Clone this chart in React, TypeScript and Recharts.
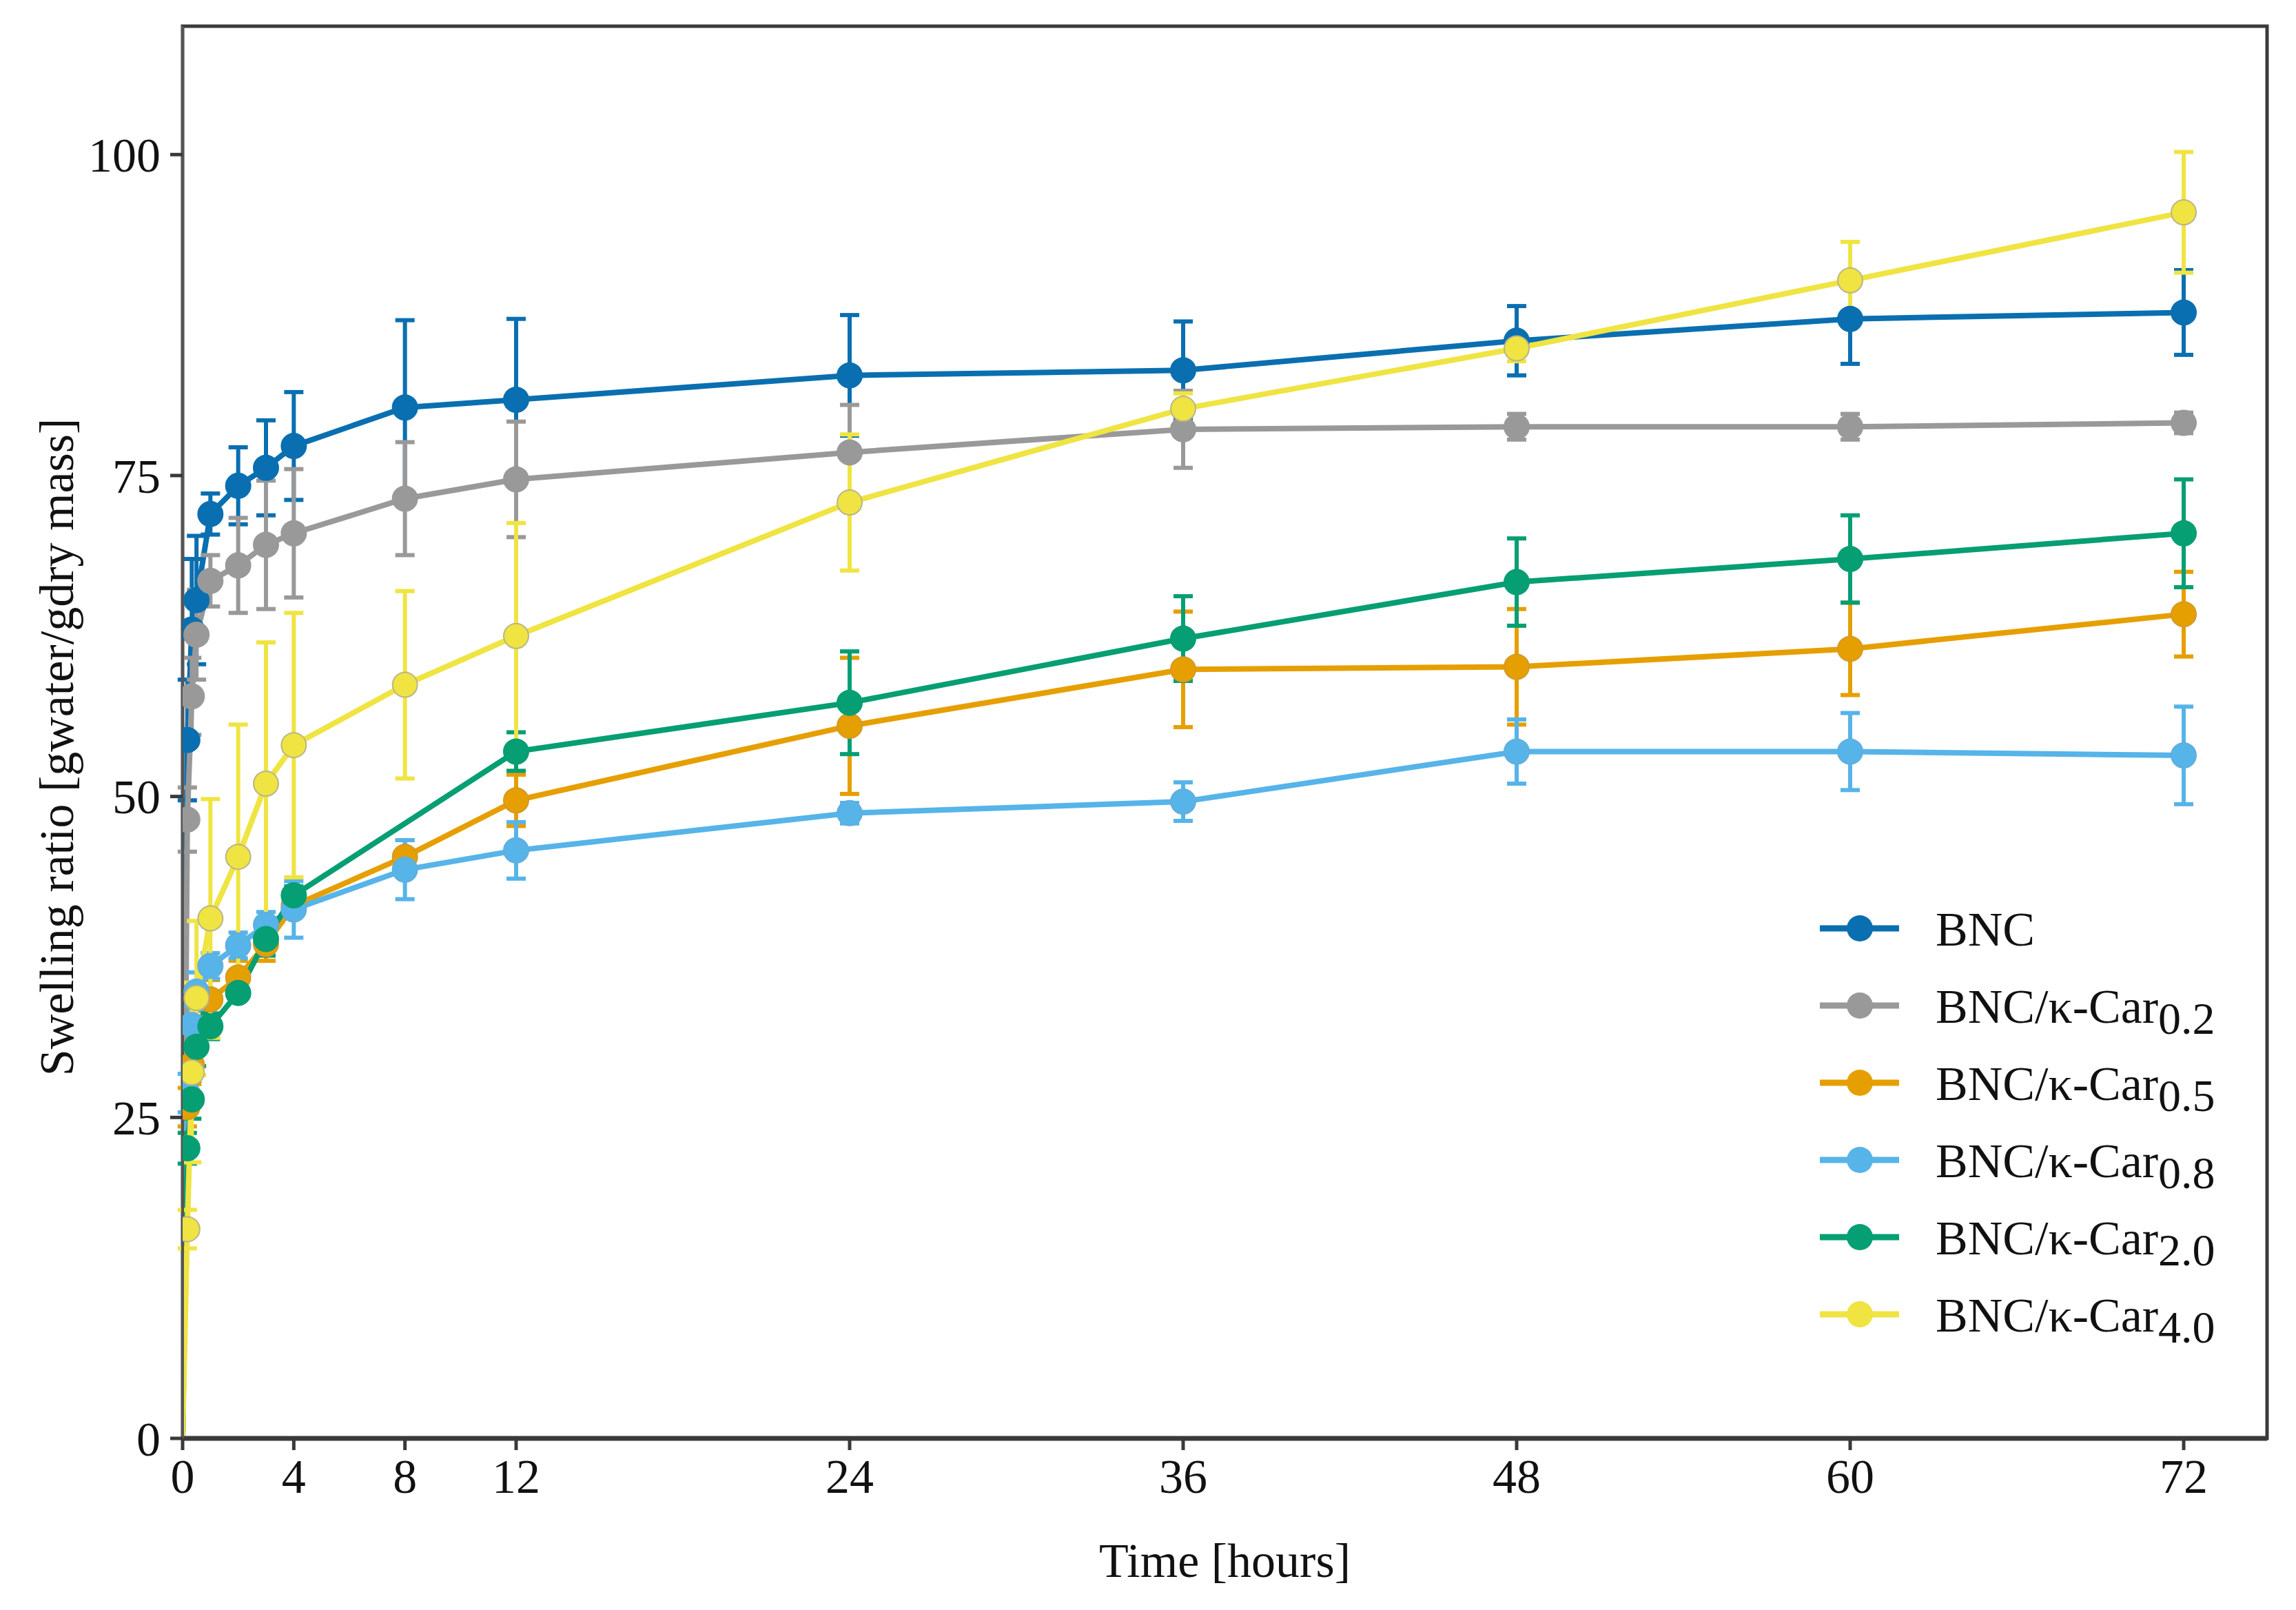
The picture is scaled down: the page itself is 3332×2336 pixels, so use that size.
import { LineChart, Line, XAxis, YAxis, ErrorBar, ReferenceArea } from 'recharts';

// sampling times in hours
const TIMES = [0, 0.17, 0.33, 0.5, 1, 2, 3, 4, 8, 12, 24, 36, 48, 60, 72];

const BNC = [0, 54.4, 63.0, 65.3, 72.0, 74.2, 75.6, 77.3, 80.3, 80.9, 82.8, 83.2, 85.5, 87.2, 87.7];
const BNC_ERR = [null, 4.7, 5.5, 5, 1.6, 3, 3.7, 4.2, 6.8, 6.3, 4.7, 3.8, 2.7, 3.5, 3.3];

const CAR02 = [0, 48.2, 57.8, 62.6, 66.8, 68.0, 69.6, 70.5, 73.2, 74.7, 76.8, 78.6, 78.8, 78.8, 79.1];
const CAR02_ERR = [null, 2.5, 3, 3.5, 2, 3.7, 5, 5, 4.4, 4.5, 3.7, 3, 1, 1, 0.8];

const CAR05 = [0, 25.8, 29.1, 32.0, 34.2, 35.9, 38.5, 41.5, 45.3, 49.7, 55.5, 59.9, 60.1, 61.5, 64.2];
const CAR05_ERR = [null, 1.5, 1.5, 1.5, 1.5, 1.3, 1.3, 0.8, 1.3, 2, 5.3, 4.5, 4.5, 3.6, 3.3];

const CAR08 = [0, 26.9, 32.2, 34.8, 36.8, 38.4, 40.0, 41.2, 44.3, 45.8, 48.7, 49.6, 53.5, 53.5, 53.2];
const CAR08_ERR = [null, 1.5, 1.5, 1.5, 1, 1, 1, 2.2, 2.3, 2.2, 0.8, 1.5, 2.5, 3, 3.8];

// no 8 h measurement for 2.0
const CAR20 = [0, 22.6, 26.4, 30.5, 32.1, 34.7, 38.9, 42.3, null, 53.5, 57.3, 62.3, 66.7, 68.5, 70.5];
const CAR20_ERR = [null, 1.2, 1.5, 1.5, 1, 0.5, 1.3, 0.7, null, 1.5, 4, 3.3, 3.4, 3.4, 4.2];

const CAR40 = [0, 16.3, 28.5, 34.3, 40.5, 45.3, 51.0, 54.0, 58.7, 62.5, 72.9, 80.2, 84.9, 90.2, 95.5];
const CAR40_ERR = [null, 1.5, 7, 6, 9.3, 10.3, 11, 10.3, 7.3, 8.8, 5.3, 1.2, 1, 3, 4.7];

const X_TICKS = [0, 4, 8, 12, 24, 36, 48, 60, 72];
const Y_TICKS = [0, 25, 50, 75, 100];

const SERIES = [
  { key: 'bnc', label: 'BNC', sub: '', color: '#0a6fb0', edge: '#0a6fb0', values: BNC, errors: BNC_ERR },
  { key: 'car02', label: 'BNC/κ-Car', sub: '0.2', color: '#999999', edge: '#999999', values: CAR02, errors: CAR02_ERR },
  { key: 'car05', label: 'BNC/κ-Car', sub: '0.5', color: '#e69f00', edge: '#d29a2a', values: CAR05, errors: CAR05_ERR },
  { key: 'car08', label: 'BNC/κ-Car', sub: '0.8', color: '#56b4e9', edge: '#62aedb', values: CAR08, errors: CAR08_ERR },
  { key: 'car20', label: 'BNC/κ-Car', sub: '2.0', color: '#069e73', edge: '#069e73', values: CAR20, errors: CAR20_ERR },
  { key: 'car40', label: 'BNC/κ-Car', sub: '4.0', color: '#efe442', edge: '#b9b48a', values: CAR40, errors: CAR40_ERR },
];

const FONT = '"Liberation Serif", serif';
const AXIS = '#3a3a3a';

const chartData = TIMES.map((t, i) => {
  const row: Record<string, number | null> = { t };
  for (const s of SERIES) {
    row[s.key] = s.values[i];
    row[s.key + 'Err'] = s.errors[i];
  }
  return row;
});

function makeDot(color: string, edge: string) {
  return (p: any) => {
    if (p.cy == null || p.payload?.t === 0) return <g key={`d-${p.index}`} />;
    return <circle key={`d-${p.index}`} cx={p.cx} cy={p.cy} r={18} fill={color} stroke={edge} strokeWidth={2} />;
  };
}

function Legend() {
  return (
    <svg width={720} height={800} style={{ position: 'absolute', left: 2592, top: 1252 }}>
      {SERIES.map((s, i) => {
        const cy = 87 + i * 112;
        return (
          <g key={s.key}>
            <line x1={41} x2={156} y1={cy} y2={cy} stroke={s.color} strokeWidth={9} />
            <circle cx={99} cy={cy} r={19} fill={s.color} />
            <text x={209} y={cy + 25} fontFamily={FONT} fontSize={70} fill="#111">
              {s.label}
              {s.sub && <tspan dy={16} fontSize={66}>{s.sub}</tspan>}
            </text>
          </g>
        );
      })}
    </svg>
  );
}

export default function App() {
  return (
    <div style={{ position: 'relative', width: 3316, height: 2320 }}>
      <LineChart width={3316} height={2320} data={chartData} margin={{ top: 30, right: 34, bottom: 0, left: 0 }}>
        <XAxis
          dataKey="t"
          type="number"
          domain={[0, 75]}
          ticks={X_TICKS}
          allowDataOverflow
          height={241}
          tickSize={17}
          tickMargin={12}
          axisLine={{ stroke: AXIS, strokeWidth: 7 }}
          tickLine={{ stroke: AXIS, strokeWidth: 5 }}
          tick={{ fontFamily: FONT, fontSize: 70, fill: '#111' }}
          label={{
            content: ({ viewBox }: any) => (
              <text x={viewBox.x + viewBox.width / 2} y={2280} textAnchor="middle" fontFamily={FONT} fontSize={70} fill="#111">
                Time [hours]
              </text>
            ),
          }}
        />
        <YAxis
          type="number"
          domain={[0, 110]}
          ticks={Y_TICKS}
          allowDataOverflow
          width={257}
          tickSize={18}
          tickMargin={14}
          axisLine={{ stroke: '#555', strokeWidth: 4 }}
          tickLine={{ stroke: AXIS, strokeWidth: 5 }}
          tick={{ fontFamily: FONT, fontSize: 70, fill: '#111' }}
          label={{
            content: () => (
              <text x={98} y={1076} transform="rotate(-90 98 1076)" textAnchor="middle" fontFamily={FONT} fontSize={70} fill="#111">
                Swelling ratio [gwater/gdry mass]
              </text>
            ),
          }}
        />
        <ReferenceArea x1={0} x2={75} y1={0} y2={110} fill="none" fillOpacity={0} stroke={AXIS} strokeWidth={5} ifOverflow="visible" />
        {SERIES.map((s) => (
          <Line
            key={s.key}
            dataKey={s.key}
            type="linear"
            stroke={s.color}
            strokeWidth={8}
            connectNulls
            dot={makeDot(s.color, s.edge)}
            activeDot={false}
            isAnimationActive={false}
          >
            <ErrorBar dataKey={s.key + 'Err'} direction="y" width={14} stroke={s.color} strokeWidth={6} isAnimationActive={false} />
          </Line>
        ))}
      </LineChart>
      <Legend />
    </div>
  );
}
